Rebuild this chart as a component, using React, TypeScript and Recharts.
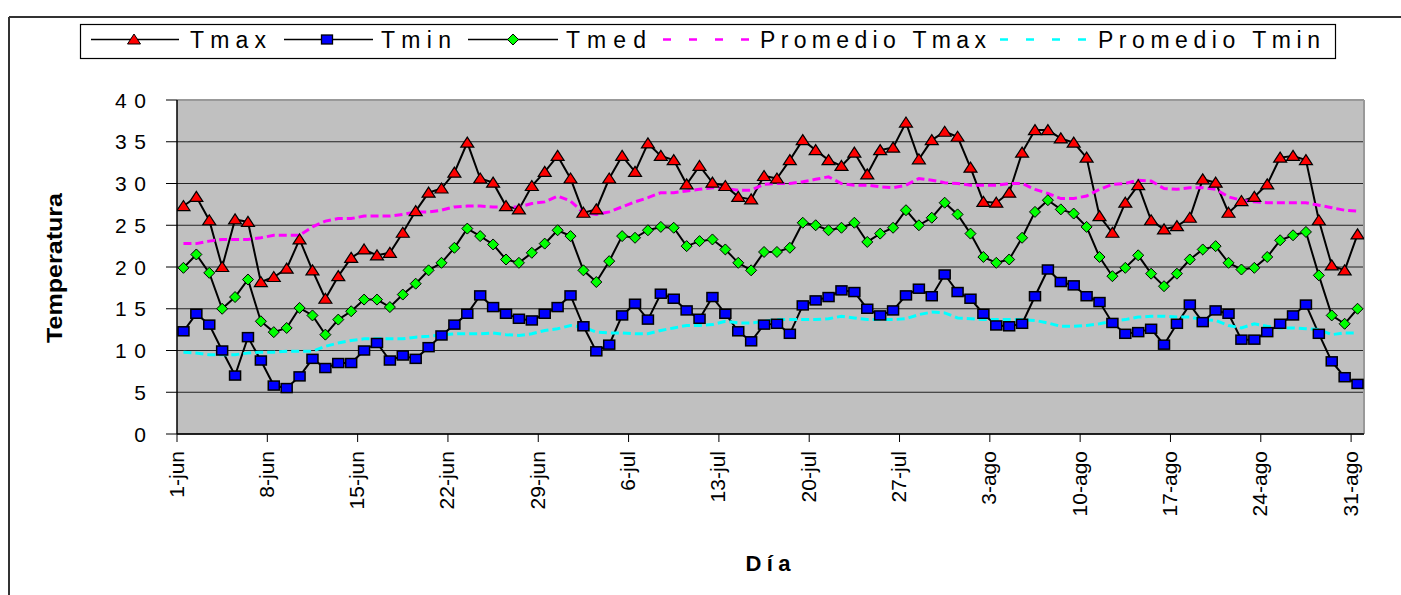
import React from 'react';
import { LineChart, Line, XAxis, YAxis, CartesianGrid, ReferenceLine } from 'recharts';

const tickIdx = [0, 7, 14, 21, 28, 35, 42, 49, 56, 63, 70, 77, 84, 91];
const tickLabels = ['1-jun', '8-jun', '15-jun', '22-jun', '29-jun', '6-jul', '13-jul', '20-jul', '27-jul', '3-ago', '10-ago', '17-ago', '24-ago', '31-ago'];
const yTicks = [0, 5, 10, 15, 20, 25, 30, 35, 40];

const tmax = [
  27.3, 28.4, 25.6, 20.0, 25.7, 25.4, 18.2, 18.8, 19.8, 23.3,
  19.6, 16.2, 18.9, 21.1, 22.1, 21.4, 21.7, 24.1, 26.7, 28.9,
  29.4, 31.3, 34.9, 30.6, 30.1, 27.3, 26.9, 29.7, 31.4, 33.3,
  30.6, 26.5, 26.9, 30.6, 33.3, 31.4, 34.8, 33.3, 32.8, 29.9,
  32.1, 30.1, 29.7, 28.4, 28.1, 30.9, 30.6, 32.8, 35.2, 34.0,
  32.8, 32.1, 33.7, 31.1, 34.0, 34.3, 37.3, 32.9, 35.2, 36.2,
  35.6, 31.9, 27.8, 27.7, 28.9, 33.7, 36.4, 36.4, 35.4, 34.9,
  33.1, 26.1, 24.1, 27.7, 29.8, 25.6, 24.5, 24.9, 25.9, 30.5,
  30.1, 26.5, 27.9, 28.4, 29.9, 33.1, 33.3, 32.8, 25.6, 20.2,
  19.6, 23.9,
];

const tmin = [
  12.3, 14.4, 13.1, 10.0, 7.0, 11.6, 8.8, 5.8, 5.5, 6.9,
  9.0, 7.9, 8.5, 8.5, 10.0, 10.9, 8.8, 9.4, 9.0, 10.4,
  11.8, 13.1, 14.4, 16.6, 15.2, 14.4, 13.8, 13.6, 14.4, 15.2,
  16.6, 12.9, 9.9, 10.7, 14.2, 15.6, 13.7, 16.8, 16.2, 14.8,
  13.8, 16.4, 14.4, 12.3, 11.1, 13.1, 13.2, 12.0, 15.4, 16.0,
  16.4, 17.2, 17.0, 15.0, 14.2, 14.8, 16.6, 17.4, 16.5, 19.1,
  17.0, 16.2, 14.4, 13.0, 12.9, 13.2, 16.5, 19.7, 18.2, 17.8,
  16.5, 15.8, 13.3, 12.0, 12.2, 12.6, 10.7, 13.2, 15.5, 13.4,
  14.8, 14.4, 11.3, 11.3, 12.2, 13.2, 14.2, 15.5, 12.0, 8.7,
  6.8, 6.0,
];

const tmed = [
  19.9, 21.5, 19.3, 15.0, 16.4, 18.5, 13.5, 12.2, 12.7, 15.1,
  14.2, 11.9, 13.7, 14.7, 16.1, 16.1, 15.2, 16.7, 18.0, 19.6,
  20.5, 22.3, 24.6, 23.7, 22.7, 20.9, 20.5, 21.7, 22.8, 24.4,
  23.7, 19.6, 18.2, 20.7, 23.7, 23.5, 24.4, 24.8, 24.7, 22.5,
  23.1, 23.3, 22.1, 20.5, 19.6, 21.8, 21.8, 22.3, 25.3, 25.0,
  24.4, 24.7, 25.3, 23.0, 24.0, 24.7, 26.8, 25.0, 25.9, 27.7,
  26.3, 24.0, 21.2, 20.5, 20.9, 23.5, 26.6, 28.0, 26.9, 26.4,
  24.8, 21.2, 18.9, 19.9, 21.4, 19.2, 17.7, 19.2, 20.9, 22.1,
  22.5, 20.5, 19.7, 19.9, 21.2, 23.2, 23.8, 24.2, 19.0, 14.2,
  13.2, 15.0,
];

const promTmax = [
  22.8, 22.8, 23.1, 23.3, 23.3, 23.3, 23.5, 23.8, 23.8, 23.8,
  24.8, 25.5, 25.8, 25.8, 26.1, 26.1, 26.1, 26.3, 26.6, 26.6,
  26.8, 27.2, 27.3, 27.3, 27.2, 27.2, 27.2, 27.6, 27.8, 28.5,
  27.9, 26.5, 26.3, 26.6, 27.2, 27.8, 28.3, 28.9, 28.9, 29.1,
  29.3, 29.5, 29.4, 29.2, 29.2, 29.9, 30.0, 30.0, 30.2, 30.5,
  30.8, 30.0, 29.8, 29.8, 29.6, 29.5, 29.8, 30.6, 30.4, 30.1,
  30.0, 29.8, 29.8, 29.8, 30.0, 30.0, 29.3, 28.8, 28.2, 28.2,
  28.5, 29.3, 29.9, 30.0, 30.4, 30.3, 29.4, 29.3, 29.5, 29.5,
  29.3, 28.4, 28.0, 27.8, 27.7, 27.7, 27.7, 27.7, 27.4, 27.1,
  26.8, 26.7,
];

const promTmin = [
  9.8, 9.7, 9.5, 9.5, 9.5, 9.7, 9.8, 9.8, 9.9, 9.9,
  9.9, 10.5, 10.9, 11.2, 11.4, 11.4, 11.4, 11.4, 11.6, 11.7,
  11.9, 12.0, 12.0, 12.0, 12.1, 11.9, 11.8, 12.0, 12.4, 12.6,
  13.0, 12.8, 12.2, 12.1, 12.1, 12.0, 12.0, 12.4, 12.7, 13.0,
  13.0, 13.1, 13.5, 13.3, 13.3, 13.5, 13.7, 13.7, 13.7, 13.7,
  13.8, 14.1, 13.9, 13.7, 13.7, 13.7, 13.8, 14.3, 14.6, 14.5,
  13.9, 13.8, 13.7, 13.7, 13.7, 13.7, 13.6, 13.3, 12.9, 12.9,
  13.0, 13.2, 13.5, 13.7, 14.0, 14.1, 14.1, 14.0, 14.0, 13.7,
  13.6, 13.0, 12.7, 13.2, 12.9, 12.7, 12.7, 12.6, 12.5, 11.9,
  12.1, 12.1,
];

const data = tmax.map((v, i) => ({
  x: i + 0.5,
  tmax: v,
  tmin: tmin[i],
  tmed: tmed[i],
  pmax: promTmax[i],
  pmin: promTmin[i],
}));

const FONT = '"Liberation Sans", Arial, sans-serif';

const triPath = (cx: number, cy: number) => `M${cx},${cy - 5.5} L${cx + 6.5},${cy + 4.5} L${cx - 6.5},${cy + 4.5} Z`;
const diaPath = (cx: number, cy: number) => `M${cx},${cy - 5.5} L${cx + 5.5},${cy} L${cx},${cy + 5.5} L${cx - 5.5},${cy} Z`;

const TriDot = (p: any) => (
  <path key={`t${p.index}`} d={triPath(p.cx, p.cy)} fill="#FF0000" stroke="#000" strokeWidth={1.2} />
);
const SqDot = (p: any) => (
  <rect key={`s${p.index}`} x={p.cx - 5.5} y={p.cy - 4.5} width={11} height={9} fill="#0000FF" stroke="#000" strokeWidth={1.5} />
);
const DiaDot = (p: any) => (
  <path key={`d${p.index}`} d={diaPath(p.cx, p.cy)} fill="#00FF00" stroke="#000" strokeWidth={1} />
);

const YTick = (p: any) => {
  const v = p.payload.value;
  const s = String(v);
  return (
    <text x={146} y={p.y} dy={7.5} textAnchor="end" fontSize={21} fontFamily={FONT} fill="#000"
      {...(s.length > 1 ? { textLength: 31, lengthAdjust: 'spacing' } : {})}>
      {s}
    </text>
  );
};

const XTick = (p: any) => {
  const idx = tickIdx.indexOf(p.payload.value);
  const label = idx >= 0 ? tickLabels[idx] : '';
  const bx = p.x + 6.5;
  const by = 451;
  return (
    <text x={bx} y={by} transform={`rotate(-90, ${bx}, ${by})`} textAnchor="end" fontSize={21} fontFamily={FONT} fill="#000">
      {label}
    </text>
  );
};

const LegendOverlay = () => (
  <svg width={1401} height={595} style={{ position: 'absolute', left: 0, top: 0, pointerEvents: 'none' }}>
    <line x1={9} y1={17} x2={1401} y2={17} stroke="#333" strokeWidth={2} />
    <line x1={9} y1={17} x2={9} y2={595} stroke="#333" strokeWidth={2} />
    <rect x={80.5} y={24.5} width={1255} height={34} fill="#fff" stroke="#000" strokeWidth={1.2} />
    <line x1={91} y1={39.5} x2={179} y2={39.5} stroke="#000" strokeWidth={1.3} />
    <path d={triPath(134, 39.5)} fill="#FF0000" stroke="#000" strokeWidth={1} />
    <text x={190} y={47.5} fontSize={23} fontFamily={FONT} textLength={76} lengthAdjust="spacing">Tmax</text>
    <line x1={284} y1={39.5} x2={373} y2={39.5} stroke="#000" strokeWidth={1.3} />
    <rect x={321.5} y={35} width={11} height={9} fill="#0000FF" stroke="#000" strokeWidth={1.3} />
    <text x={381} y={47.5} fontSize={23} fontFamily={FONT} textLength={70} lengthAdjust="spacing">Tmin</text>
    <line x1={468} y1={39.5} x2={558} y2={39.5} stroke="#000" strokeWidth={1.3} />
    <path d={diaPath(513, 39.5)} fill="#00FF00" stroke="#000" strokeWidth={1} />
    <text x={566} y={47.5} fontSize={23} fontFamily={FONT} textLength={80} lengthAdjust="spacing">Tmed</text>
    <line x1={663} y1={39.5} x2={752} y2={39.5} stroke="#FF00FF" strokeWidth={2.5} strokeDasharray="8 18" />
    <text x={760} y={47.5} fontSize={23} fontFamily={FONT} textLength={226} lengthAdjust="spacing">Promedio Tmax</text>
    <line x1={1000} y1={39.5} x2={1090} y2={39.5} stroke="#00FFFF" strokeWidth={2.5} strokeDasharray="8 18" />
    <text x={1098} y={47.5} fontSize={23} fontFamily={FONT} textLength={222} lengthAdjust="spacing">Promedio Tmin</text>
    <text x={0} y={0} transform="translate(62, 268) rotate(-90)" textAnchor="middle" fontSize={22} fontWeight="bold" fontFamily={FONT} textLength={150} lengthAdjust="spacingAndGlyphs">Temperatura</text>
    <text x={768} y={571} textAnchor="middle" fontSize={22} fontWeight="bold" fontFamily={FONT} textLength={45} lengthAdjust="spacing">Día</text>
  </svg>
);

export default function App() {
  return (
    <div style={{ position: 'absolute', left: 0, top: 0, width: 1401, height: 595, background: '#fff', overflow: 'hidden' }}>
      <LineChart width={1401} height={595} data={data} margin={{ top: 100, right: 37, bottom: 131, left: 117 }}>
        <CartesianGrid vertical={false} stroke="#222" strokeWidth={1.2} fill="#C0C0C0" fillOpacity={1} />
        <XAxis dataKey="x" type="number" domain={[0, 92]} ticks={tickIdx} interval={0} height={30}
          axisLine={{ stroke: '#000', strokeWidth: 1.5 }} tickLine={{ stroke: '#000' }} tickSize={8} tick={<XTick />} allowDataOverflow />
        <YAxis type="number" domain={[0, 40]} ticks={yTicks} interval={0} width={60}
          axisLine={{ stroke: '#000', strokeWidth: 1.5 }} tickLine={{ stroke: '#000' }} tickSize={11} tick={<YTick />} />
        <ReferenceLine y={40} stroke="#999" strokeWidth={2} />
        <ReferenceLine x={92} stroke="#999" strokeWidth={2} />
        <Line dataKey="tmax" stroke="#000" strokeWidth={2} dot={TriDot} isAnimationActive={false} />
        <Line dataKey="tmin" stroke="#000" strokeWidth={2} dot={SqDot} isAnimationActive={false} />
        <Line dataKey="tmed" stroke="#000" strokeWidth={2} dot={DiaDot} isAnimationActive={false} />
        <Line dataKey="pmax" stroke="#FF00FF" strokeWidth={3} strokeDasharray="8 4" dot={false} isAnimationActive={false} />
        <Line dataKey="pmin" stroke="#00FFFF" strokeWidth={3} strokeDasharray="8 4" dot={false} isAnimationActive={false} />
      </LineChart>
      <LegendOverlay />
    </div>
  );
}
